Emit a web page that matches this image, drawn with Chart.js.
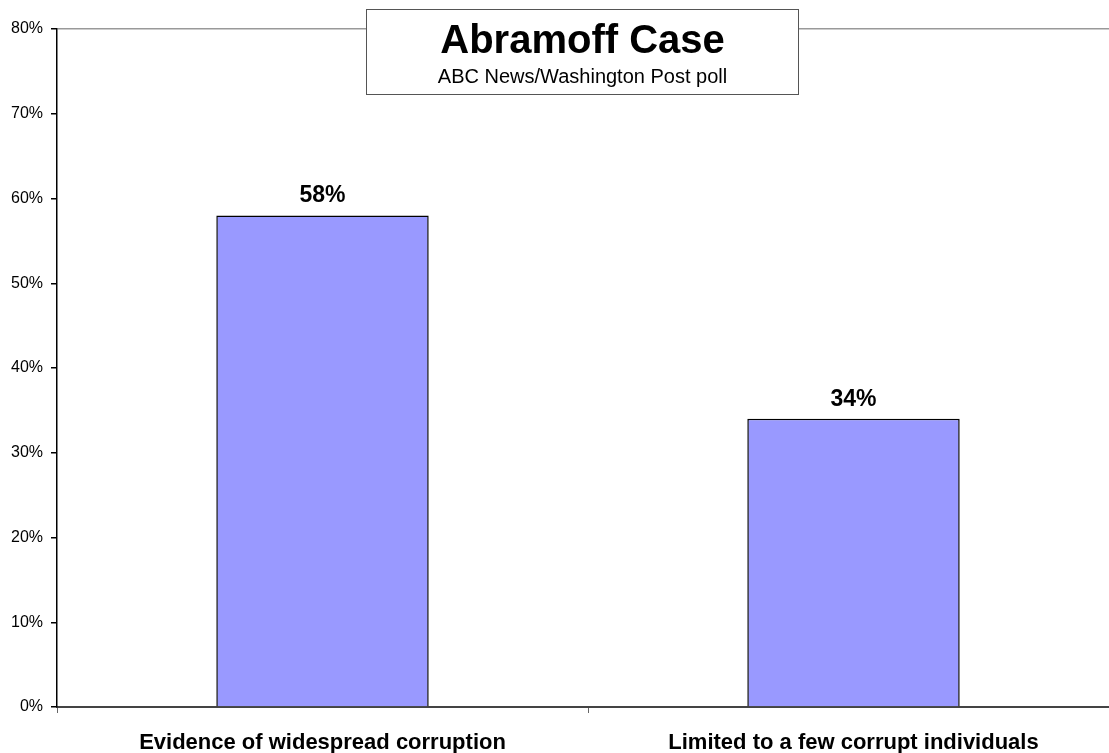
<!DOCTYPE html>
<html>
<head>
<meta charset="utf-8">
<script src="https://cdn.jsdelivr.net/npm/chart.js@4"></script>
<style>
  html, body { margin: 0; padding: 0; background: #fff; overflow: hidden; }
  #wrap { position: absolute; left: 0; top: 0; width: 1120px; height: 753px; }
</style>
</head>
<body>
<div id="wrap"><canvas id="chart"></canvas></div>
<script>
const categories = ["Evidence of widespread corruption", "Limited to a few corrupt individuals"];
const values = [58, 34];
const yTicks = [0, 10, 20, 30, 40, 50, 60, 70, 80];
const titleText = "Abramoff Case";
const subtitleText = "ABC News/Washington Post poll";

const FONT = "'Liberation Sans', Arial, sans-serif";

const valueLabels = {
  id: "valueLabels",
  afterDatasetsDraw(chart) {
    const ctx = chart.ctx;
    const meta = chart.getDatasetMeta(0);
    ctx.save();
    ctx.font = "bold 23px " + FONT;
    ctx.fillStyle = "#000";
    ctx.textAlign = "center";
    ctx.textBaseline = "alphabetic";
    meta.data.forEach((bar, i) => {
      ctx.fillText(values[i] + "%", bar.x, bar.y - 13);
    });
    ctx.restore();
  }
};

const titleBox = {
  id: "titleBox",
  afterDraw(chart) {
    const ctx = chart.ctx;
    ctx.save();
    ctx.fillStyle = "#fff";
    ctx.fillRect(366, 9, 433, 86);
    ctx.strokeStyle = "#555";
    ctx.lineWidth = 1;
    ctx.strokeRect(366.5, 9.5, 432, 85);
    ctx.fillStyle = "#000";
    ctx.textAlign = "center";
    ctx.textBaseline = "alphabetic";
    ctx.font = "bold 40px " + FONT;
    ctx.fillText(titleText, 582.5, 53);
    ctx.font = "20px " + FONT;
    ctx.fillText(subtitleText, 582.5, 83);
    ctx.restore();
  }
};

new Chart(document.getElementById("chart"), {
  type: "bar",
  data: {
    labels: categories,
    datasets: [{
      data: values,
      backgroundColor: "#9999ff",
      borderColor: "#000",
      borderWidth: 1.5,
      barPercentage: 0.4,
      categoryPercentage: 1
    }]
  },
  options: {
    responsive: true,
    maintainAspectRatio: false,
    animation: false,
    layout: { padding: { top: 29, right: 1, left: 0, bottom: 0 } },
    plugins: {
      legend: { display: false },
      tooltip: { enabled: false }
    },
    scales: {
      x: {
        afterFit(scale) { scale.height = 46; },
        border: { color: "#444", width: 2 },
        grid: {
          offset: true,
          color: "rgba(0,0,0,0)",
          tickColor: "#666",
          tickLength: 6
        },
        ticks: {
          color: "#000",
          padding: 17,
          maxRotation: 0,
          font: { family: FONT, size: 22, weight: "bold" }
        }
      },
      y: {
        min: 0,
        max: 80,
        afterFit(scale) { scale.width = 57; },
        afterBuildTicks(scale) { scale.ticks = yTicks.map(v => ({ value: v })); },
        border: { color: "#000", width: 1.5 },
        grid: {
          color: (c) => (c.tick && c.tick.value === 80 ? "#999" : "rgba(0,0,0,0)"),
          lineWidth: 1.5,
          tickColor: "#000",
          tickLength: 6
        },
        ticks: {
          color: "#000",
          padding: 8,
          font: { family: FONT, size: 16 },
          callback: (v) => v + "%"
        }
      }
    }
  },
  plugins: [valueLabels, titleBox]
});
</script>
</body>
</html>
